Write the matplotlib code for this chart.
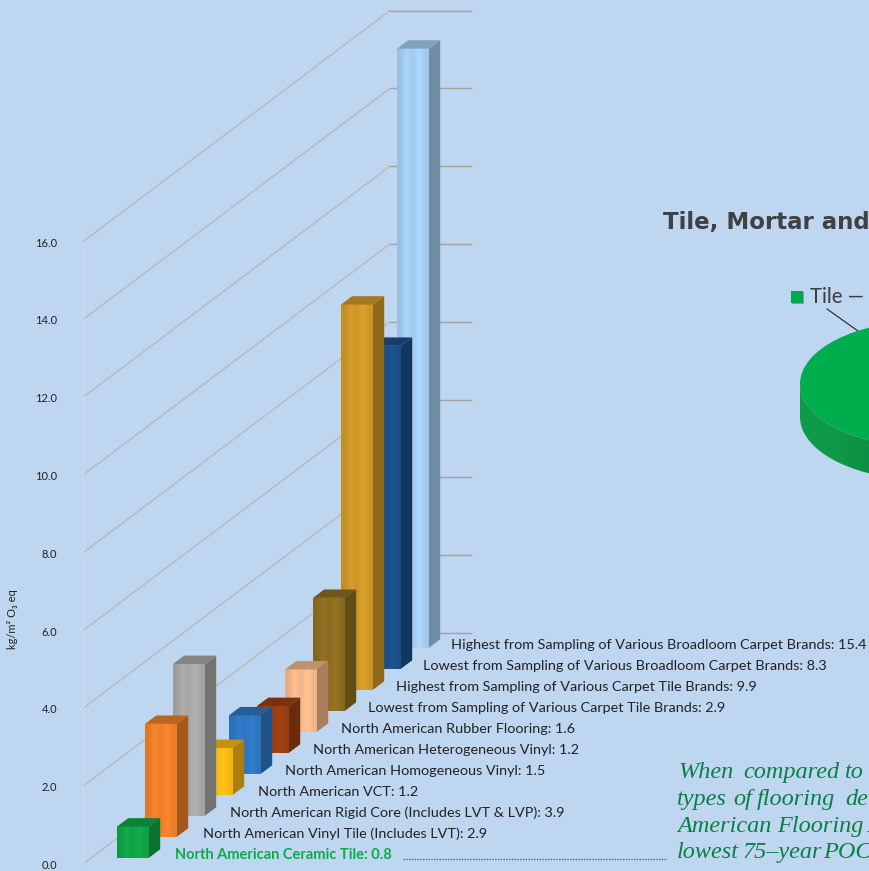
import numpy as np
import matplotlib
matplotlib.use("Agg")
import matplotlib.pyplot as plt
from matplotlib.colors import to_rgb
from matplotlib.patches import PathPatch, Rectangle
from matplotlib.path import Path

labels = [
    "North American Ceramic Tile",
    "North American Vinyl Tile (Includes LVT)",
    "North American Rigid Core (Includes LVT & LVP)",
    "North American VCT",
    "North American Homogeneous Vinyl",
    "North American Heterogeneous Vinyl",
    "North American Rubber Flooring",
    "Lowest from Sampling of Various Carpet Tile Brands",
    "Highest from Sampling of Various Carpet Tile Brands",
    "Lowest from Sampling of Various Broadloom Carpet Brands",
    "Highest from Sampling of Various Broadloom Carpet Brands",
]
values = [0.8, 2.9, 3.9, 1.2, 1.5, 1.2, 1.6, 2.9, 9.9, 8.3, 15.4]
ticks = [0, 2, 4, 6, 8, 10, 12, 14, 16]
colors = ["#10a648", "#f1812a", "#a9aaa8", "#fbbb16", "#2f78c4", "#9b3f12",
          "#f8ba8c", "#8f6e22", "#d19a28", "#1b5089", "#a6cff3"]
tile_share = [1.0]
note_words = [["When", "compared", "to"],
              ["types", "of", "flooring", "dev"],
              ["American", "Flooring", "P"],
              ["lowest", "75–year", "POC"]]

BG = "#bfd6f0"
W, H = 870, 871
STEP_X, STEP_Y, PX_PER_UNIT = 28.0, 21.0, 38.9
X0, Y0 = 83.0, 864.0


def project(depth, across, value):
    # oblique projection of the fake 3d chart into the main axes
    return X0 + STEP_X * depth + across, value + depth * STEP_Y / PX_PER_UNIT


def shade(color, k):
    return tuple(min(1.0, c * k) for c in to_rgb(color))


fig = plt.figure(figsize=(W / 100, H / 100), dpi=100, facecolor=BG)
ax = fig.add_axes([0, 0, 1, 1])
ax.set_xlim(0, W)
ax.set_ylim((Y0 - H) / PX_PER_UNIT, Y0 / PX_PER_UNIT)
ax.axis("off")

text_font = ["Lato", "DejaVu Sans"]

# walls
n = len(values)
for t in ticks:
    x = [project(0, 0, t)[0], project(n, -1, t)[0], project(n, 80, t)[0]]
    y = [project(0, 0, t)[1], project(n, -1, t)[1], project(n, 80, t)[1]]
    ax.plot(x[:2], y[:2], color="#b4afa2", lw=0.7, zorder=1)
    ax.plot(x[1:], y[1:], color="#a3a39c", lw=1.0, zorder=1)
    ax.text(57, t - 0.04, f"{t:.1f}", ha="right", va="center", fontsize=8, color="#222222", family=text_font)
ax.plot([X0, X0], [0, 16], color="#cdd9e8", lw=0.8, zorder=1)
ax.text(13, 6.3, "kg/m² O₃ eq", rotation=90, ha="center", va="center", fontsize=8,
        color="#222222", family=text_font)

# bars, far one first so the near ones cover it
band = np.array([0.93, 1.03, 0.98, 1.05, 0.97])
for i in range(n - 1, -1, -1):
    v = values[i]
    z = 10 + (n - i) * 2
    fx0, fy0 = project(i + 0.3, 25.6, 0)
    fx1, _ = project(i + 0.3, 57.6, 0)
    bx0, by0 = project(i + 0.7, 25.6, 0)
    bx1, _ = project(i + 0.7, 57.6, 0)
    img = np.array([[shade(colors[i], k) for k in band]])
    ax.imshow(img, extent=(fx0, fx1, fy0, fy0 + v), aspect="auto", interpolation="bilinear", zorder=z)
    ax.fill([fx1, bx1, bx1, fx1], [fy0, by0, by0 + v, fy0 + v], color=shade(colors[i], 0.68), lw=0, zorder=z)
    ax.fill([fx0, fx1, bx1, bx0], [fy0 + v, fy0 + v, by0 + v, by0 + v], color=shade(colors[i], 0.78), lw=0, zorder=z)
    lx, ly = project(i, 92, 0.23)
    if i == 0:
        ax.text(lx, ly, f"{labels[i]}: {v}", ha="left", va="center", fontsize=10.5, fontweight="bold",
                color="#0cab4c", family=text_font)
    else:
        lx -= 4 * i / (n - 1)
        ax.text(lx, ly, f"{labels[i]}: {v}", ha="left", va="center", fontsize=10.4,
                color="#222222", family=text_font)

# right side, pixel coordinates
over = fig.add_axes([0, 0, 1, 1])
over.set_xlim(0, W)
over.set_ylim(H, 0)
over.axis("off")
over.patch.set_alpha(0)

over.plot([403, 667], [859, 859], color="#0a8f45", lw=1, ls=(0, (1, 1)))
over.text(663, 222, "Tile, Mortar and", fontsize=16.5, fontweight="bold", color="#414042",
          va="center", ha="left", family="DejaVu Sans")
over.add_patch(Rectangle((792, 292), 12, 12, color="#8f9aa8", lw=0))
over.add_patch(Rectangle((791, 291), 12, 12, color="#00a850", lw=0))
over.text(810, 297, "Tile —", fontsize=14.8, color="#3c3c3c", va="center", ha="left", family=text_font)
over.plot([827, 858], [309, 331], color="#222222", lw=0.8)

# the note is justified in the source, so each word gets its own x
note_x = [[678, 743, 845], [677, 733, 757, 845], [677, 777, 866], [677, 743, 823]]
note_y = [772, 799, 826, 852]
for words, xs, y in zip(note_words, note_x, note_y):
    for word, x in zip(words, xs):
        over.text(x, y, word, fontsize=17.5, style="italic", color="#0a7f45", va="center", ha="left",
                  family="Liberation Serif")

# pie, squashed into an ellipse; only the tile slice shows in this crop
a, b, drop = 125.0, 63.0, 33.0
pie_ax = fig.add_axes([800 / W, 1 - (384 + b + drop + 4) / H, 2 * a / W, (2 * b + drop + 4) / H])
pie_ax.pie(tile_share, colors=["#00ad4d"], radius=1, wedgeprops={"lw": 0, "zorder": 3})
pie_ax.set_aspect("auto")
low = -1 - (drop + 4) / b
pie_ax.set_xlim(-1, 1)
pie_ax.set_ylim(low, 1)
theta = np.linspace(np.pi, 2 * np.pi, 120)
outline = np.vstack([np.c_[np.cos(theta), np.sin(theta) - drop / b],
                     np.c_[np.cos(theta[::-1]), np.sin(theta[::-1])]])
side = PathPatch(Path(outline, closed=False), transform=pie_ax.transData, fc="none", lw=0)
pie_ax.add_patch(side)
ramp = np.array([[to_rgb("#0e9a49"), to_rgb("#0b8a41"), to_rgb("#05703a"), to_rgb("#05703a")]])
im = pie_ax.imshow(ramp, extent=(-1, 1, low, 0.2), aspect="auto", interpolation="bilinear", zorder=2)
im.set_clip_path(side)

fig.savefig("out.png", dpi=100, facecolor=BG)
